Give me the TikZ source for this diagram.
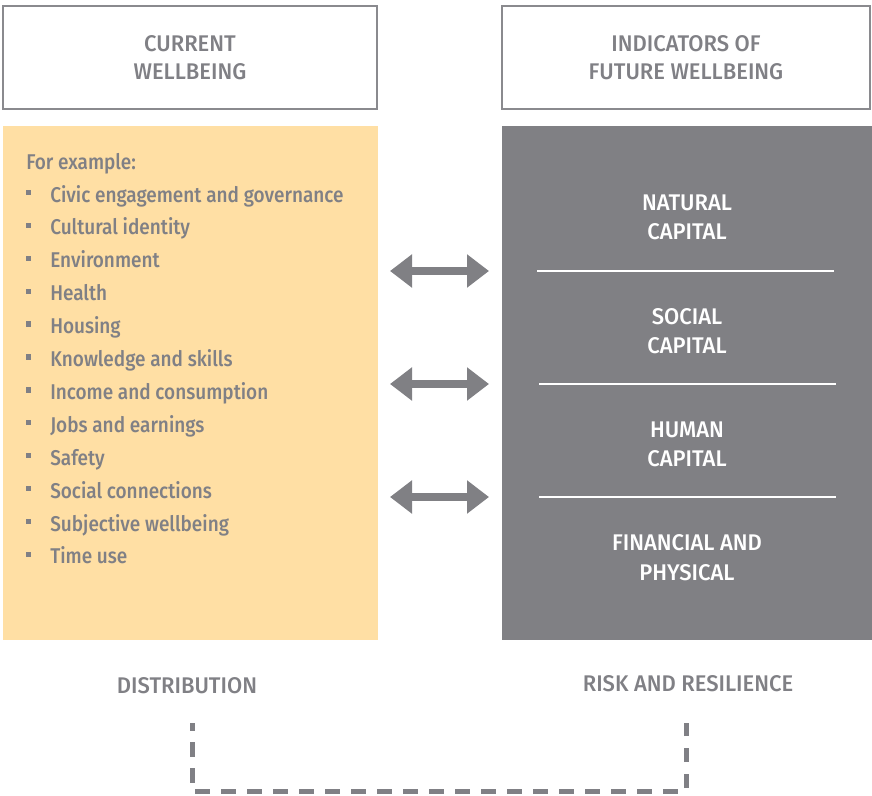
\documentclass[tikz,border=0pt]{standalone}
\usepackage{fontspec}
\setmainfont[FakeStretch=0.89]{Fira Sans Medium}
\newfontfamily\capsface[FakeStretch=0.97]{Fira Sans Medium}
\usetikzlibrary{arrows.meta}
\definecolor{txtgrey}{HTML}{808085}
\definecolor{panelgrey}{HTML}{808084}
\definecolor{boxline}{HTML}{8A8A8E}
\definecolor{sand}{HTML}{FFDFA4}
\begin{document}
\begin{tikzpicture}[x=0.75pt,y=-0.75pt,
  titlebox/.style={draw=boxline, line width=0.9pt, inner sep=0pt,
    minimum height=77.25pt, text=txtgrey, align=center,
    font=\capsface\fontsize{17}{21}\selectfont},
  panel/.style={inner sep=0pt, minimum height=385.5pt},
  item/.style={anchor=base west, inner sep=0pt, text=txtgrey,
    font=\fontsize{16}{20}\selectfont},
  bulletbox/.style={fill=txtgrey, minimum size=4pt, inner sep=0pt},
  capital/.style={text=white, align=center, font=\capsface\fontsize{17}{22}\selectfont},
  divider/.style={draw=white, line width=1.5pt},
  twoway/.style={draw=panelgrey, line width=6.5pt,
    {Triangle[length=16.5pt,width=24pt]}-{Triangle[length=16.5pt,width=24pt]}},
  footlabel/.style={text=txtgrey, font=\capsface\fontsize{17}{21}\selectfont},
  loopline/.style={draw=txtgrey, line width=3.75pt,
    dash pattern=on 11pt off 8.5pt, dash phase=5pt}
]
\useasboundingbox (0,0) rectangle (872,796);

% column headings
\node[titlebox, minimum width=280.5pt] (hcur) at (190,57.5) {CURRENT\\WELLBEING};
\node[titlebox, minimum width=276pt] (hfut) at (686,57.5) {INDICATORS OF\\FUTURE WELLBEING};

% panels
\node[panel, fill=sand, minimum width=281.25pt] (cur) at (190.5,383) {};
\node[panel, fill=panelgrey, minimum width=277.5pt] (fut) at (687,383) {};

% current wellbeing list
\node[item] (ex) at (26,169) {For example:};
\foreach \txt [count=\i] in {Civic engagement and governance, Cultural identity,
    Environment, Health, Housing, Knowledge and skills, Income and consumption,
    Jobs and earnings, Safety, Social connections, Subjective wellbeing, Time use} {
  \pgfmathsetmacro{\yy}{194+32.9*(\i-1)}
  \node[bulletbox] (b\i) at (28.5,\yy-1.5) {};
  \node[item] (it\i) at (50,\yy+8) {\txt};
}

% capital stocks
\node[capital] (nat) at (687,217.5) {NATURAL\\CAPITAL};
\node[capital] (soc) at (687,331) {SOCIAL\\CAPITAL};
\node[capital] (hum) at (687,444.5) {HUMAN\\CAPITAL};
\node[capital] (fin) at (687,557.5) {FINANCIAL AND\\PHYSICAL};

\coordinate (s1a) at (537,271); \coordinate (s1b) at (834,271);
\coordinate (s2a) at (539,384); \coordinate (s2b) at (836,384);
\coordinate (s3a) at (539,497); \coordinate (s3b) at (836,497);
\draw[divider] (s1a) -- (s1b);
\draw[divider] (s2a) -- (s2b);
\draw[divider] (s3a) -- (s3b);

% links between the two columns
\coordinate (l1) at (390,271); \coordinate (r1) at (489,271);
\coordinate (l2) at (390,384); \coordinate (r2) at (489,384);
\coordinate (l3) at (390,497); \coordinate (r3) at (489,497);
\draw[twoway] (l1) -- (r1);
\draw[twoway] (l2) -- (r2);
\draw[twoway] (l3) -- (r3);

% cross-cutting dimensions
\node[footlabel] (dist) at (187,686) {DISTRIBUTION};
\node[footlabel] (risk) at (688,684) {RISK AND RESILIENCE};

\coordinate (q1) at (192.5,723);
\coordinate (q2) at (192.5,791.5);
\coordinate (q3) at (686,791.5);
\coordinate (q4) at (686,723);
\draw[loopline] (q1) -- (q2) -- (q3) -- (q4);
\end{tikzpicture}
\end{document}
